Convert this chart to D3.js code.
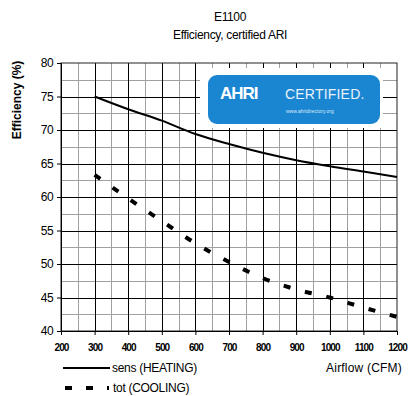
<!DOCTYPE html>
<html>
<head>
<meta charset="utf-8">
<script src="https://cdn.jsdelivr.net/npm/d3@7"></script>
<style>
  body { margin: 0; background: #fff; }
  text { font-family: "Liberation Sans", Arial, sans-serif; }
</style>
</head>
<body>
<div id="chart"></div>
<script>
// airflow (CFM) vs efficiency (%)
const heatAirflow = [300, 400, 500, 600, 700, 800, 900, 1000, 1100, 1200];
const heatEff = [75.0, 73.1, 71.4, 69.4, 67.9, 66.6, 65.5, 64.6, 63.8, 63.0];

const coolAirflow = [300, 400, 500, 600, 700, 800, 900, 1000, 1100, 1200];
const coolEff = [63.3, 59.8, 56.4, 53.1, 50.3, 47.9, 46.2, 45.0, 43.5, 42.1];

const xTicks = [200, 300, 400, 500, 600, 700, 800, 900, 1000, 1100, 1200];
const yTicks = [40, 45, 50, 55, 60, 65, 70, 75, 80];
const xMinor = [250, 350, 450, 550, 650, 750, 850, 950, 1050, 1150];
const yMinor = [42.5, 47.5, 52.5, 57.5, 62.5, 67.5, 72.5, 77.5];

const svgWidth = 410;
const svgHeight = 396;

const svg = d3.select('#chart')
  .append('svg')
  .attr('width', svgWidth)
  .attr('height', svgHeight);

const xScale = d3.scaleLinear().domain([200, 1200]).range([61, 397]);
const yScale = d3.scaleLinear().domain([40, 80]).range([331, 63]);
const plotW = xScale(1200) - xScale(200);
const plotH = yScale(40) - yScale(80);

// titles
svg.append('text')
  .attr('x', 230).attr('y', 21)
  .attr('text-anchor', 'middle')
  .style('font-size', '12px')
  .style('letter-spacing', '-0.4px')
  .text('E1100');

svg.append('text')
  .attr('x', 230).attr('y', 39)
  .attr('text-anchor', 'middle')
  .style('font-size', '12px')
  .style('letter-spacing', '-0.3px')
  .text('Efficiency, certified ARI');

// grid: minor (gray) then major (black)
const gridG = svg.append('g').attr('shape-rendering', 'crispEdges');
function vLines(vals, color) {
  gridG.selectAll(null).data(vals).enter().append('line')
    .attr('x1', d => Math.round(xScale(d)) + 0.5).attr('x2', d => Math.round(xScale(d)) + 0.5)
    .attr('y1', yScale(80)).attr('y2', yScale(40))
    .style('stroke', color).style('stroke-width', '1.5px');
}
function hLines(vals, color) {
  gridG.selectAll(null).data(vals).enter().append('line')
    .attr('x1', xScale(200)).attr('x2', xScale(1200))
    .attr('y1', d => Math.round(yScale(d)) + 0.5).attr('y2', d => Math.round(yScale(d)) + 0.5)
    .style('stroke', color).style('stroke-width', '1.5px');
}
vLines(xMinor, '#a0a0a0');
hLines(yMinor, '#a0a0a0');
vLines(xTicks.slice(1, -1), '#000');
hLines(yTicks.slice(1, -1), '#000');

// plot frame
svg.append('rect')
  .attr('x', xScale(200)).attr('y', yScale(80))
  .attr('width', plotW)
  .attr('height', plotH)
  .style('fill', 'none').style('stroke', '#222').style('stroke-width', '1px');

// AHRI logo over the grid
const logo = svg.append('g');
logo.append('rect')
  .attr('x', 200).attr('y', 68).attr('width', 183).attr('height', 60)
  .attr('fill', '#fff');
logo.append('rect')
  .attr('x', 208).attr('y', 75).attr('width', 172).attr('height', 49)
  .attr('rx', 9)
  .attr('fill', '#1a86d2');
logo.append('text')
  .attr('x', 220).attr('y', 99)
  .attr('fill', '#fff')
  .style('font-size', '17px').style('font-weight', 'bold')
  .style('letter-spacing', '-1px')
  .text('AHRI');
logo.append('text')
  .attr('x', 285).attr('y', 99)
  .attr('fill', '#e8f2fb')
  .style('font-size', '14px')
  .style('letter-spacing', '0.2px')
  .text('CERTIFIED.');
logo.append('text')
  .attr('x', 286).attr('y', 113)
  .attr('fill', '#d8e8f6')
  .style('font-size', '5px')
  .text('www.ahridirectory.org');

// axes
const yAxis = svg.append('g')
  .attr('transform', `translate(${xScale(200)},0)`)
  .call(d3.axisLeft(yScale).tickValues(yTicks).tickSize(4).tickPadding(4));
yAxis.select('.domain').attr('stroke', '#000');
yAxis.selectAll('line').attr('stroke', '#000');
yAxis.selectAll('text')
  .style('font-size', '12px')
  .style('letter-spacing', '-0.6px')
  .style('font-family', '"Liberation Sans", Arial, sans-serif');

const xAxis = svg.append('g')
  .attr('transform', `translate(0,${yScale(40)})`)
  .call(d3.axisBottom(xScale).tickValues(xTicks).tickFormat(d3.format('d')).tickSize(4).tickPadding(9));
xAxis.select('.domain').attr('stroke', '#000');
xAxis.selectAll('line').attr('stroke', '#000');
xAxis.selectAll('text')
  .style('font-size', '10px')
  .style('font-weight', 'bold')
  .style('letter-spacing', '-0.9px')
  .style('font-family', '"Liberation Sans Narrow", "Liberation Sans", Arial, sans-serif');

// y label
svg.append('text')
  .attr('transform', 'translate(21,100) rotate(-90)')
  .attr('text-anchor', 'middle')
  .style('font-size', '12px')
  .style('font-weight', 'bold')
  .text('Efficiency (%)');

// series
const heatData = heatAirflow.map((a, i) => ({ x: a, y: heatEff[i] }));
const coolData = coolAirflow.map((a, i) => ({ x: a, y: coolEff[i] }));

const line = d3.line()
  .x(d => xScale(d.x))
  .y(d => yScale(d.y))
  .curve(d3.curveMonotoneX);

svg.append('path')
  .datum(heatData)
  .attr('d', line)
  .attr('fill', 'none')
  .attr('stroke', '#000')
  .attr('stroke-width', 2);

svg.append('path')
  .datum(coolData)
  .attr('d', line)
  .attr('fill', 'none')
  .attr('stroke', '#000')
  .attr('stroke-width', 4)
  .attr('stroke-dasharray', '7,15');

// legend
svg.append('line')
  .attr('x1', 63).attr('x2', 110).attr('y1', 368).attr('y2', 368)
  .attr('stroke', '#000').attr('stroke-width', 2);
svg.append('text')
  .attr('x', 112).attr('y', 372)
  .style('font-size', '12px')
  .style('letter-spacing', '-0.3px')
  .text('sens (HEATING)');

svg.append('line')
  .attr('x1', 65).attr('x2', 109).attr('y1', 388).attr('y2', 388)
  .attr('stroke', '#000').attr('stroke-width', 4)
  .attr('stroke-dasharray', '7,14');
svg.append('text')
  .attr('x', 113).attr('y', 392)
  .style('font-size', '12px')
  .style('letter-spacing', '-0.3px')
  .text('tot (COOLING)');

svg.append('text')
  .attr('x', 402).attr('y', 372)
  .attr('text-anchor', 'end')
  .style('font-size', '12px')
  .style('letter-spacing', '0.2px')
  .text('Airflow  (CFM)');
</script>
</body>
</html>
